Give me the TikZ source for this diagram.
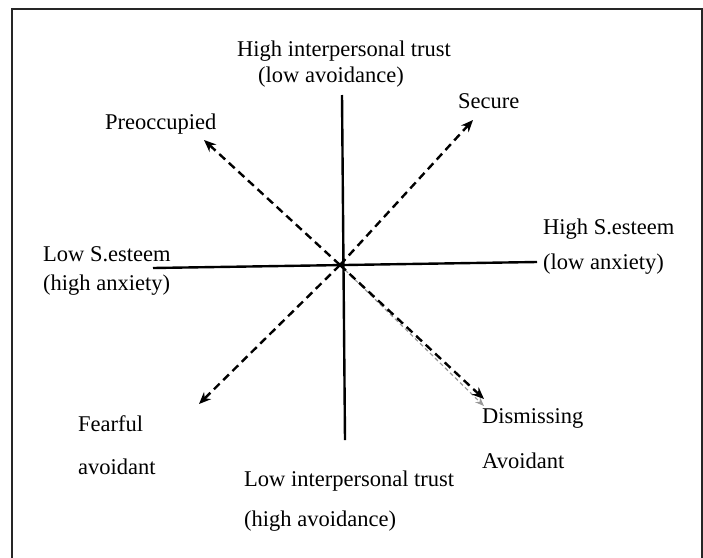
\documentclass[tikz,border=0pt]{standalone}
\usepackage{fontspec}
\setmainfont{Liberation Serif}
\usepackage{tikz}
\usetikzlibrary{arrows.meta}

\begin{document}
\begin{tikzpicture}[x=1pt, y=-1pt,
  lbl/.style={anchor=west, inner sep=0pt, font=\fontsize{22.5}{26}\selectfont},
  axisline/.style={draw=black, line width=2.4pt},
  style arrow/.style={draw=black, line width=2.4pt, dash pattern=on 8pt off 5pt, -{Stealth[length=12pt,width=10pt]}},
  shadow arrow/.style={draw=gray!80, line width=1.2pt, dash pattern=on 4pt off 3pt, -{Stealth[length=9pt,width=7pt]}}]
\useasboundingbox (0,0) rectangle (703,557);
\draw[line width=2.4pt, black!85] (12,570) -- (12,9) -- (702,9) -- (702,570);

% axis labels
\node[lbl] (trusthi)  at (237,51)  {High interpersonal trust};
\node[lbl] (avoidlo)  at (258,77)  {(low avoidance)};
\node[lbl] (trustlo)  at (244,481) {Low interpersonal trust};
\node[lbl] (avoidhi)  at (244,521) {(high avoidance)};
\node[lbl] (esteemlo) at (43,254)  {Low S.esteem};
\node[lbl] (anxhi)    at (43,285)  {(high anxiety)};
\node[lbl] (esteemhi) at (543,229) {High S.esteem};
\node[lbl] (anxlo)    at (543,264) {(low anxiety)};

% attachment styles
\node[lbl] (secure)   at (458,101) {Secure};
\node[lbl] (preocc)   at (105,124) {Preoccupied};
\node[lbl] (fearful)  at (78,424)  {Fearful};
\node[lbl] (fearful2) at (78,467)  {avoidant};
\node[lbl] (dismiss)  at (482,418) {Dismissing};
\node[lbl] (dismiss2) at (482,461) {Avoidant};

\coordinate (o) at (340,265);
\coordinate (top) at (342,95);
\coordinate (bot) at (345,440);
\coordinate (lft) at (153,268);
\coordinate (rgt) at (537,262);
\coordinate (sec) at (473,120);
\coordinate (pre) at (204,140);
\coordinate (fea) at (199,404);
\coordinate (dis) at (484,399);
\coordinate (dis2) at (484,406);

\draw[axisline] (top) -- (bot);
\draw[axisline] (lft) -- (rgt);
\draw[shadow arrow] (o) -- (dis2);
\draw[style arrow] (o) -- (sec);
\draw[style arrow] (o) -- (pre);
\draw[style arrow] (o) -- (fea);
\draw[style arrow] (o) -- (dis);
\end{tikzpicture}
\end{document}
